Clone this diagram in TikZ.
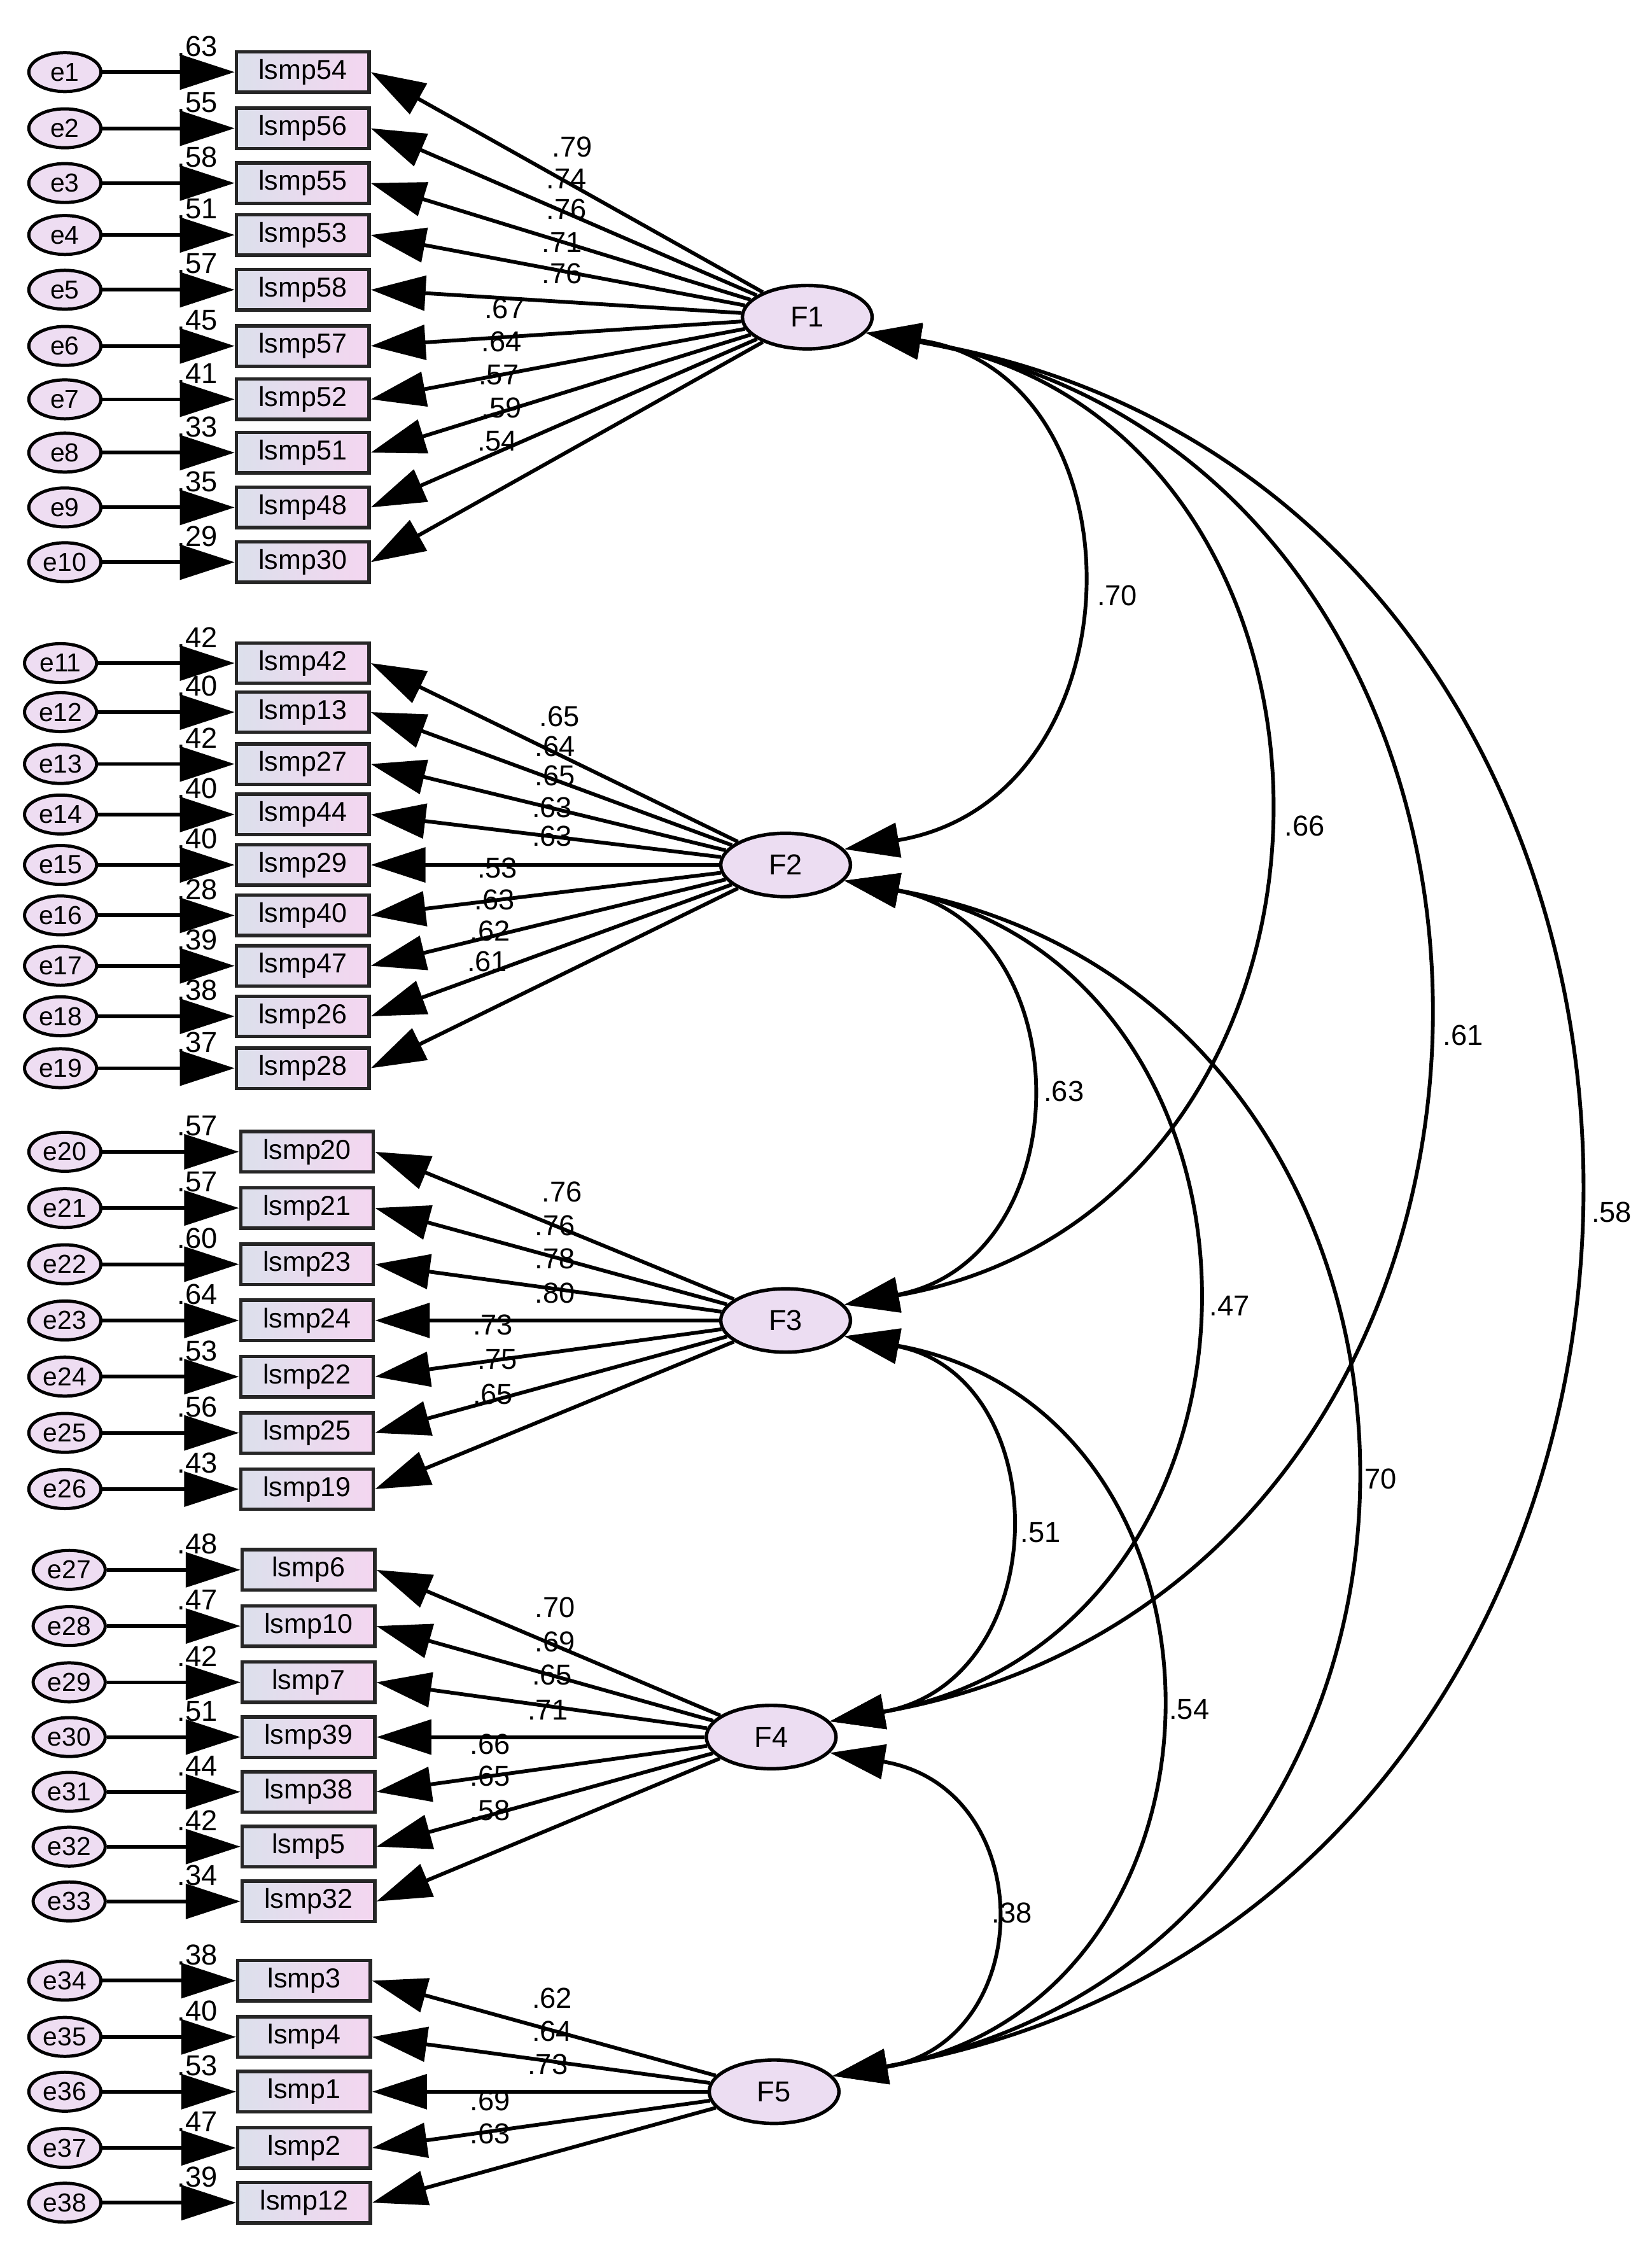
\documentclass[tikz,border=0pt]{standalone}
\usepackage{fontspec}
\setmainfont{Liberation Sans}
\usetikzlibrary{arrows.meta,shapes.geometric}
\begin{document}
\begin{tikzpicture}[x=1pt,y=-1pt,
  err/.style={ellipse,draw=black,line width=2.2pt,fill=errc,minimum width=50pt,minimum height=27pt,inner sep=0pt,font=\fontsize{18}{18}\selectfont},
  obs/.style={rectangle,draw=black!85,line width=2.4pt,left color=boxl,right color=boxr,minimum width=92pt,minimum height=28pt,inner sep=0pt,font=\fontsize{19}{19}\selectfont},
  lat/.style={ellipse,draw=black,line width=2.4pt,fill=latc,minimum width=90pt,minimum height=44pt,inner sep=0pt,font=\fontsize{20}{20}\selectfont},
  arr/.style={line width=2.6pt,-{Triangle[length=38pt,width=24pt]}},
  cov/.style={line width=2.6pt,{Triangle[length=38pt,width=24pt]}-{Triangle[length=38pt,width=24pt]}},
  lab/.style={font=\fontsize{20}{20}\selectfont,inner sep=0pt}]
\definecolor{errc}{HTML}{EEDDF2}
\definecolor{latc}{HTML}{ECDDF2}
\definecolor{boxl}{HTML}{DCE0EC}
\definecolor{boxr}{HTML}{F4D6F0}
\useasboundingbox (0,0) rectangle (1146,1565);
% latent
\node[lat] (F1) at (560,220) {F1};
\node[lat] (F2) at (545,600) {F2};
\node[lat] (F3) at (545,916) {F3};
\node[lat] (F4) at (535,1205) {F4};
\node[lat] (F5) at (537,1451) {F5};
\foreach \i/\n/\y/\v/\F/\bx/\ex/\l/\lx/\ly in {
1/54/50/.63/F1/210/45/.79/397/102,
2/56/89/.55/F1/210/45/.74/393/124,
3/55/127/.58/F1/210/45/.76/393/145,
4/53/163/.51/F1/210/45/.71/390/168,
5/58/201/.57/F1/210/45/.76/390/190,
6/57/240/.45/F1/210/45/.67/350/214,
7/52/277/.41/F1/210/45/.64/348/237,
8/51/314/.33/F1/210/45/.57/346/260,
9/48/352/.35/F1/210/45/.59/348/283,
10/30/390/.29/F1/210/45/.54/345/306,
11/42/460/.42/F2/210/42/.65/388/497,
12/13/494/.40/F2/210/42/.64/385/518,
13/27/530/.42/F2/210/42/.65/385/538,
14/44/565/.40/F2/210/42/.63/383/560,
15/29/600/.40/F2/210/42/.63/383/580,
16/40/635/.28/F2/210/42/.53/345/602,
17/47/670/.39/F2/210/42/.63/343/624,
18/26/705/.38/F2/210/42/.62/340/646,
19/28/741/.37/F2/210/42/.61/338/667,
20/20/799/.57/F3/213/45/.76/390/827,
21/21/838/.57/F3/213/45/.76/385/850,
22/23/877/.60/F3/213/45/.78/385/873,
23/24/916/.64/F3/213/45/.80/385/897,
24/22/955/.53/F3/213/45/.73/342/919,
25/25/994/.56/F3/213/45/.75/345/943,
26/19/1033/.43/F3/213/45/.65/342/967,
27/6/1089/.48/F4/214/48/.70/385/1115,
28/10/1128/.47/F4/214/48/.69/385/1139,
29/7/1167/.42/F4/214/48/.65/383/1162,
30/39/1205/.51/F4/214/48/.71/380/1186,
31/38/1243/.44/F4/214/48/.66/340/1210,
32/5/1281/.42/F4/214/48/.65/340/1232,
33/32/1319/.34/F4/214/48/.58/340/1256,
34/3/1374/.38/F5/211/45/.62/383/1386,
35/4/1413/.40/F5/211/45/.64/383/1409,
36/1/1451/.53/F5/211/45/.73/380/1432,
37/2/1490/.47/F5/211/45/.69/340/1457,
38/12/1528/.39/F5/211/45/.63/340/1480}{
  \node[err] (e\i) at (\ex,\y) {e\i};
  \node[obs] (o\i) at (\bx,\y) {lsmp\n};
  \draw[arr] (e\i) -- (o\i);
  \draw[arr] (\F) -- (o\i.east);
  \node[lab] at (137,\y-18) {\v};
  \node[lab] at (\lx,\ly) {\l};
}
% covariances
\draw[cov] (F1.-15) .. controls (795,258) and (795,554) .. (F2.15);
\draw[cov] (F1.-15) .. controls (968,290) and (968,838) .. (F3.15);
\draw[cov] (F1.-15) .. controls (1117,320) and (1117,1098) .. (F4.15);
\draw[cov] (F1.-15) .. controls (1256,340) and (1256,1320) .. (F5.15);
\draw[cov] (F2.-15) .. controls (751,642) and (751,874) .. (F3.15);
\draw[cov] (F2.-15) .. controls (906,670) and (906,1135) .. (F4.15);
\draw[cov] (F2.-15) .. controls (1052,695) and (1052,1355) .. (F5.15);
\draw[cov] (F3.-15) .. controls (733,955) and (733,1166) .. (F4.15);
\draw[cov] (F3.-15) .. controls (872,978) and (872,1390) .. (F5.15);
\draw[cov] (F4.-15) .. controls (721,1240) and (721,1416) .. (F5.15);
\node[lab] at (775,413) {.70};
\node[lab] at (905,573) {.66};
\node[lab] at (1015,718) {.61};
\node[lab] at (1118,841) {.58};
\node[lab] at (738,757) {.63};
\node[lab] at (853,906) {.47};
\node[lab] at (955,1026) {.70};
\node[lab] at (722,1063) {.51};
\node[lab] at (825,1186) {.54};
\node[lab] at (702,1327) {.38};
\end{tikzpicture}
\end{document}
